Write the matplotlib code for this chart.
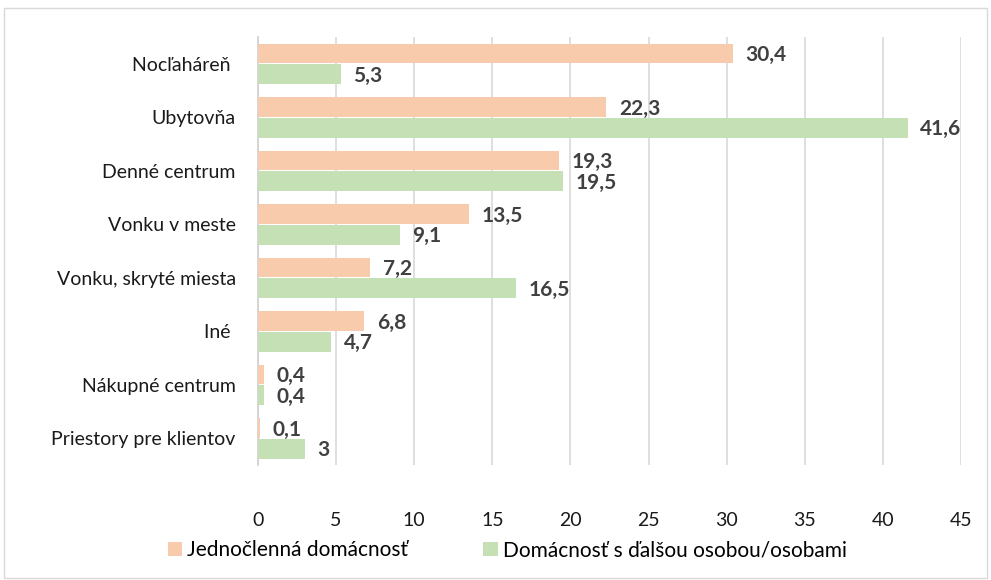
import matplotlib.pyplot as plt
import numpy as np
from matplotlib.patches import Rectangle

plt.rcParams['font.family'] = ['Lato', 'DejaVu Sans']

categories = ["Nocľaháreň ", "Ubytovňa", "Denné centrum", "Vonku v meste",
              "Vonku, skryté miesta", "Iné ", "Nákupné centrum", "Priestory pre klientov"]
single = [30.4, 22.3, 19.3, 13.5, 7.2, 6.8, 0.4, 0.1]
multi = [5.3, 41.6, 19.5, 9.1, 16.5, 4.7, 0.4, 3]
single_labels = ["30,4", "22,3", "19,3", "13,5", "7,2", "6,8", "0,4", "0,1"]
multi_labels = ["5,3", "41,6", "19,5", "9,1", "16,5", "4,7", "0,4", "3"]

c_single = "#F8CBAD"
c_multi = "#C5E0B4"

fig = plt.figure(figsize=(9.91, 5.80), dpi=100)
ax = fig.add_axes([0.2603, 0.198, 0.7094, 0.738])

y = np.arange(len(categories))
h = 0.37
b1 = ax.barh(y - h / 2 - 0.01, single, height=h, color=c_single, label="Jednočlenná domácnosť", zorder=3)
b2 = ax.barh(y + h / 2 + 0.01, multi, height=h, color=c_multi, label="Domácnosť s ďalšou osobou/osobami", zorder=3)

for yy, v, t in zip(y, single, single_labels):
    ax.text(v + 0.8, yy - h / 2 + 0.02, t, va='center', ha='left', fontsize=15,
            fontweight='bold', color='#404040')
for yy, v, t in zip(y, multi, multi_labels):
    ax.text(v + 0.8, yy + h / 2 + 0.04, t, va='center', ha='left', fontsize=15,
            fontweight='bold', color='#404040')

ax.set_xlim(0, 45)
ax.set_ylim(len(categories) - 0.5, -0.5)
ax.set_xticks(range(0, 46, 5))
ax.set_yticks(y)
ax.set_yticklabels(categories, fontsize=14, color='#1a1a1a')
ax.tick_params(axis='x', labelsize=14, colors='#1a1a1a', length=0, pad=34)
ax.tick_params(axis='y', length=0, pad=16)
ax.grid(axis='x', color='#d9d9d9', linewidth=1.2, zorder=0)
for s in ['top', 'right', 'bottom']:
    ax.spines[s].set_visible(False)
ax.spines['left'].set_color('#d0d0d0')
ax.spines['left'].set_linewidth(1.2)

fig.legend(handles=[b1, b2], loc='center', bbox_to_anchor=(0.512, 0.051), ncol=2,
           frameon=False, fontsize=15, handlelength=0.7, handleheight=0.7,
           columnspacing=3.6, handletextpad=0.25)

fig.patches.append(Rectangle((0.004, 0.004), 0.992, 0.982, transform=fig.transFigure,
                             fill=False, edgecolor='#d9d9d9', linewidth=1))

fig.savefig("out.png", dpi=100)
